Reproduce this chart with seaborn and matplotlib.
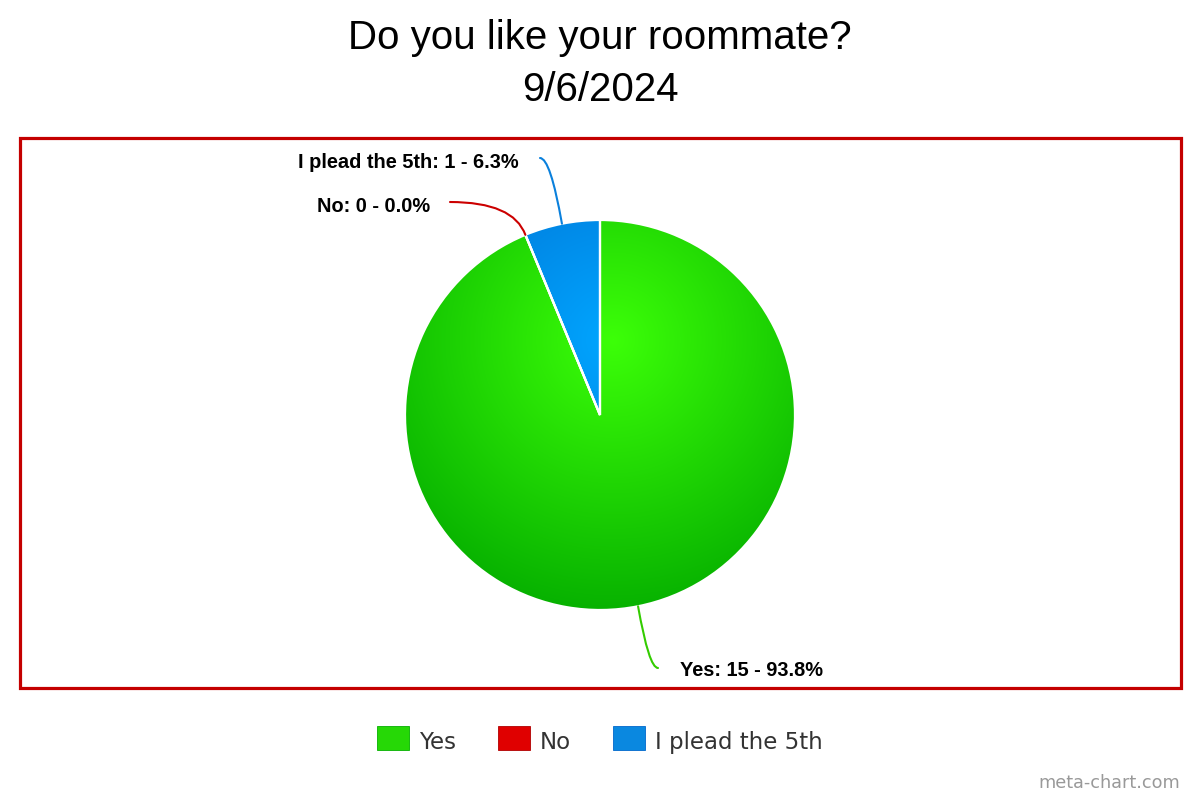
import numpy as np
import matplotlib
matplotlib.use("Agg")
import matplotlib.pyplot as plt
import seaborn as sns
from matplotlib.colors import LinearSegmentedColormap
from matplotlib.patches import Rectangle

# chart data
title_lines = ["Do you like your roommate?", "9/6/2024"]
categories = ["Yes", "No", "I plead the 5th"]
counts = [15, 0, 1]
# light (centre) / dark (edge) colour of each slice's radial gradient
light_colors = ["#3cff08", "#ff1010", "#00a6ff"]
dark_colors = ["#06b000", "#b00000", "#0068cc"]
legend_colors = ["#26d806", "#e00000", "#0a88e0"]
line_colors = ["#33cc00", "#cc0000", "#0a80dc"]

sns.set_style("white")
plt.rcParams["font.family"] = ["Liberation Sans", "DejaVu Sans"]

W, H = 1200, 800
cx, cy, R = 600, 415, 195  # pie centre / radius in pixels

fig = plt.figure(figsize=(12, 8), dpi=100)
ax = fig.add_axes([0, 0, 1, 1])

wedges, _ = ax.pie(counts, startangle=90, counterclock=False, radius=1,
                   center=(0, 0), frame=True,
                   wedgeprops=dict(facecolor="none", edgecolor="white", linewidth=1.6))
# axis units = pie radii, origin at pie centre, equal aspect
ax.set_xlim(-cx / R, (W - cx) / R)
ax.set_ylim(-(H - cy) / R, cy / R)
ax.axis("off")

# radial gradient fill, highlight a bit above the centre
gx, gy = 0.07, 0.385
xs = np.linspace(-1, 1, 400)
X, Y = np.meshgrid(xs, xs[::-1])
D = np.clip(np.hypot(X - gx, Y - gy) / 1.42, 0, 1)
for w, lc, dc in zip(wedges, light_colors, dark_colors):
    cmap = LinearSegmentedColormap.from_list("g", [lc, dc])
    im = ax.imshow(D, cmap=cmap, vmin=0, vmax=1, extent=[-1, 1, -1, 1],
                   zorder=0.5, interpolation="bilinear")
    im.set_clip_path(w)
    w.set_zorder(1)

# labels with curved leader lines
total = sum(counts)
label_pos = [(680, 671, "left"), (430, 206, "right"), (519, 163, "right")]
line_end = [(658, 668), (450, 202), (540, 158)]
angle_b = [100, 110, 100]
for w, cat, n, col, (lx, ly, ha), (ex, ey), ab in zip(
        wedges, categories, counts, line_colors, label_pos, line_end, angle_b):
    mid = np.deg2rad((w.theta1 + w.theta2) / 2)
    start = (np.cos(mid), np.sin(mid))
    end = ((ex - cx) / R, (cy - ey) / R)
    ax.annotate("", xy=start, xytext=end,
                arrowprops=dict(arrowstyle="-", color=col, lw=1.5,
                                shrinkA=0, shrinkB=0,
                                connectionstyle=f"angle3,angleA=0,angleB={ab}"))
    pct = np.floor(1000 * n / total + 0.5) / 10  # round half up like the source
    ax.text((lx - cx) / R, (cy - ly) / R, f"{cat}: {n} - {pct:.1f}%",
            ha=ha, va="center", fontsize=14.4, fontweight="bold", color="black")

# title
fig.text(0.5, 1 - 38 / H, title_lines[0], ha="center", va="center",
         fontsize=29, color="black")
fig.text(0.5, 1 - 90 / H, title_lines[1], ha="center", va="center",
         fontsize=29, color="black")

# red frame around the plot area
fig.patches.append(Rectangle((20 / W, 1 - 688 / H), 1161 / W, 550 / H,
                             transform=fig.transFigure, fill=False,
                             edgecolor="#c40000", linewidth=2.3))

# legend drawn by hand so all labels share one baseline
renderer = fig.canvas.get_renderer()
box_w, box_h, pad, gap = 32, 24, 10, 42
box_top, baseline = 726, 749
texts = [fig.text(0, 1 - baseline / H, c, ha="left", va="baseline",
                  fontsize=16.5, color="#333333", family="DejaVu Sans")
         for c in categories]
widths = [t.get_window_extent(renderer).width for t in texts]
total_w = sum(box_w + pad + tw for tw in widths) + gap * (len(texts) - 1)
x = (W - total_w) / 2
for t, tw, fc, ec in zip(texts, widths, legend_colors, dark_colors):
    fig.patches.append(Rectangle((x / W, 1 - (box_top + box_h) / H), box_w / W, box_h / H,
                                 transform=fig.transFigure, facecolor=fc,
                                 edgecolor=ec, linewidth=0.6))
    t.set_x((x + box_w + pad) / W)
    x += box_w + pad + tw + gap

fig.text(1 - 20 / W, 1 - 783 / H, "meta-chart.com", ha="right", va="center",
         fontsize=12.7, color="#999999", family="DejaVu Sans")

fig.savefig("out.png", dpi=100)
